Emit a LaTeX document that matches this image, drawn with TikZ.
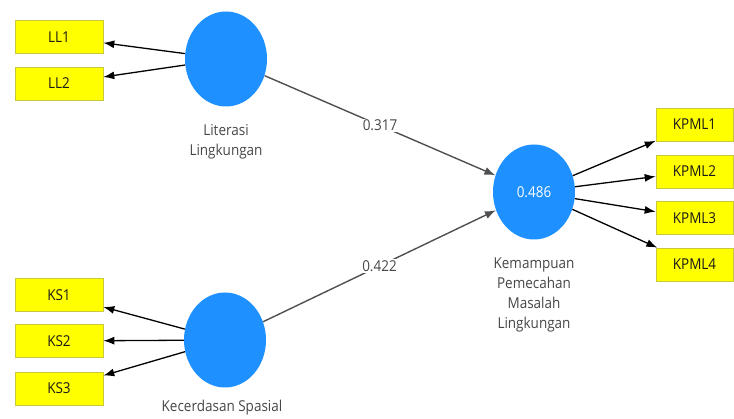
\documentclass[tikz,border=0pt]{standalone}
\usepackage{fontspec}
\setmainfont{Open Sans}[FakeStretch=0.9]
\usetikzlibrary{shapes.geometric,arrows.meta}
\definecolor{latblue}{RGB}{30,144,255}
\definecolor{indyellow}{RGB}{255,255,0}
\definecolor{indedge}{RGB}{200,200,60}
\definecolor{labgray}{RGB}{70,70,70}
\definecolor{pathgray}{RGB}{80,80,80}
\begin{document}
\begin{tikzpicture}[x=1pt,y=-1pt,
    latent/.style={ellipse, fill=latblue, minimum width=82pt, minimum height=95pt, inner sep=0pt},
    indicator/.style={rectangle, fill=indyellow, draw=indedge, line width=0.6pt, minimum height=33pt, inner sep=0pt, text=black!90, font=\fontsize{15}{18}\selectfont},
    lvname/.style={align=center, text=labgray, font=\fontsize{15}{20}\selectfont},
    load/.style={-{Latex[length=11pt,width=8pt]}, line width=1.3pt, black},
    coef/.style={-{Latex[length=11pt,width=8pt]}, line width=1.4pt, pathgray},
    coeflabel/.style={fill=white, text=labgray, inner sep=1pt, font=\fontsize{15}{18}\selectfont}]
  \useasboundingbox (0,0) rectangle (734,419);
  % latent variables
  \node[latent] (LL) at (226,59) {};
  \node[latent] (KS) at (225,340) {};
  \node[latent, text=white, font=\fontsize{15}{18}\selectfont] (KPML) at (534,192) {0.486};
  \node[lvname] (LLname) at (226,142) {Literasi\\Lingkungan};
  \node[lvname] (KSname) at (222,408) {Kecerdasan Spasial};
  \node[lvname] (KPMLname) at (534,295) {Kemampuan\\Pemecahan\\Masalah\\Lingkungan};
  % indicators
  \foreach \name/\y in {LL1/37, LL2/83.5, KS1/295, KS2/341, KS3/388.5} {
    \node[indicator, minimum width=88pt] (\name) at (59,\y) {\name};
    }
  \foreach \name/\y in {KPML1/124.5, KPML2/171.5, KPML3/218, KPML4/264.5} {
    \node[indicator, minimum width=77pt] (\name) at (694.5,\y) {\name};
    }
  % loadings
  \foreach \name in {LL1,LL2} {
    \draw[load] (LL) -- (\name);
    }
  \foreach \name in {KS1,KS2,KS3} {
    \draw[load] (KS) -- (\name);
    }
  \foreach \name in {KPML1,KPML2,KPML3,KPML4} {
    \draw[load] (KPML) -- (\name);
    }
  % path coefficients
  \draw[coef] (LL) -- node[coeflabel] {0.317} (KPML);
  \draw[coef] (KS) -- node[coeflabel] {0.422} (KPML);
\end{tikzpicture}
\end{document}
